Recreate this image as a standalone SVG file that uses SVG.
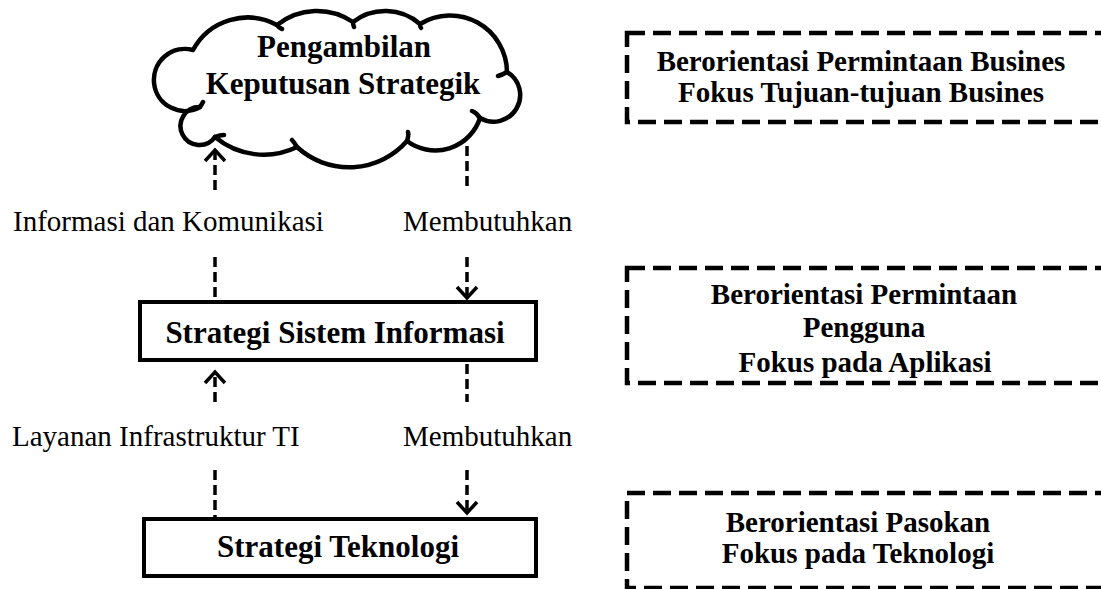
<svg xmlns="http://www.w3.org/2000/svg" width="1101" height="589" viewBox="0 0 1101 589">
<style>
.bold{font-family:"Liberation Serif","Times New Roman",serif;font-weight:bold;fill:#000}
.reg{font-family:"Liberation Serif","Times New Roman",serif;font-size:29px;fill:#000}
.box{fill:#fff;stroke:#000;stroke-width:4}
.dbox{fill:none;stroke:#000;stroke-width:4.5;stroke-dasharray:18 8}
.conn{fill:none;stroke:#000;stroke-width:3.5;stroke-dasharray:10 5}
.head{fill:none;stroke:#000;stroke-width:3.5;stroke-linejoin:miter}
.cloud{fill:#fff;stroke:#000;stroke-width:4.5;stroke-linejoin:round}
.tick{fill:none;stroke:#000;stroke-width:4.5;stroke-linecap:round}
</style>
<defs>
<clipPath id="clipB"><rect x="627" y="268" width="480" height="110"/></clipPath>
</defs>

<g id="cloud">
<path class="cloud" d="M193,50 A62,62 0 0 1 277,25 A64,64 0 0 1 353,22 A53,53 0 0 1 420,24 A57,57 0 0 1 507,72 A26,26 0 1 1 480,118 A47,47 0 0 1 407,141 A77,77 0 0 1 297,147 A76,76 0 0 1 215,137 A19,19 0 1 1 200,107 A31,31 0 1 1 193,50 Z"/>
<path class="tick" d="M277,25 q2,3 5,4 M353,22 q0,3 1,5 M420,24 q0,3 1,4 M507,72 q-5,3 -9,4 M480,118 q-3,-5 -8,-7 M407,141 q2,-6 1,-9 M297,147 q-3,-5 -5,-7 M215,137 q5,-2 9,-2 M200,107 q2,-3 3,-5"/>
<text class="bold" font-size="31" x="344" y="57" text-anchor="middle">Pengambilan</text>
<text class="bold" font-size="31" x="343" y="94" text-anchor="middle">Keputusan Strategik</text>
</g>

<g id="ssi">
<rect class="box" x="140" y="302" width="396" height="58"/>
<text class="bold" font-size="31" x="335" y="343" text-anchor="middle">Strategi Sistem Informasi</text>
</g>

<g id="st">
<rect class="box" x="144" y="519" width="392" height="57"/>
<text class="bold" font-size="31" x="338" y="557" text-anchor="middle">Strategi Teknologi</text>
</g>

<g id="noteA">
<rect class="dbox" x="627" y="33" width="490" height="89"/>
<text class="bold" font-size="29" x="861" y="71" text-anchor="middle">Berorientasi Permintaan Busines</text>
<text class="bold" font-size="29" x="861" y="102" text-anchor="middle">Fokus Tujuan-tujuan Busines</text>
</g>

<g id="noteB">
<rect class="dbox" x="627" y="268" width="490" height="115"/>
<g clip-path="url(#clipB)">
<text class="bold" font-size="29" x="864" y="304" text-anchor="middle">Berorientasi Permintaan</text>
<text class="bold" font-size="29" x="864" y="337" text-anchor="middle">Pengguna</text>
<text class="bold" font-size="29" x="865" y="372" text-anchor="middle">Fokus pada Aplikasi</text>
</g>
</g>

<g id="noteC">
<rect class="dbox" x="627" y="493" width="490" height="95"/>
<text class="bold" font-size="29" x="858" y="532" text-anchor="middle">Berorientasi Pasokan</text>
<text class="bold" font-size="29" x="858" y="563" text-anchor="middle">Fokus pada Teknologi</text>
</g>

<g id="connectors">
<line class="conn" x1="215" y1="190" x2="215" y2="152"/>
<polyline class="head" points="205,161 215,150 225,161"/>
<line class="conn" x1="467" y1="146" x2="467" y2="190"/>
<line class="conn" x1="215" y1="257" x2="215" y2="300"/>
<line class="conn" x1="467" y1="257" x2="467" y2="296"/>
<polyline class="head" points="457,287 467,298 477,287"/>
<line class="conn" x1="215" y1="402" x2="215" y2="374"/>
<polyline class="head" points="205,383 215,372 225,383"/>
<line class="conn" x1="467" y1="364" x2="467" y2="402"/>
<line class="conn" x1="215" y1="470" x2="215" y2="517"/>
<line class="conn" x1="467" y1="470" x2="467" y2="511"/>
<polyline class="head" points="457,502 467,513 477,502"/>
<text class="reg" x="13" y="231">Informasi dan Komunikasi</text>
<text class="reg" x="403" y="231">Membutuhkan</text>
<text class="reg" x="12" y="446">Layanan Infrastruktur TI</text>
<text class="reg" x="403" y="446">Membutuhkan</text>
</g>
</svg>
